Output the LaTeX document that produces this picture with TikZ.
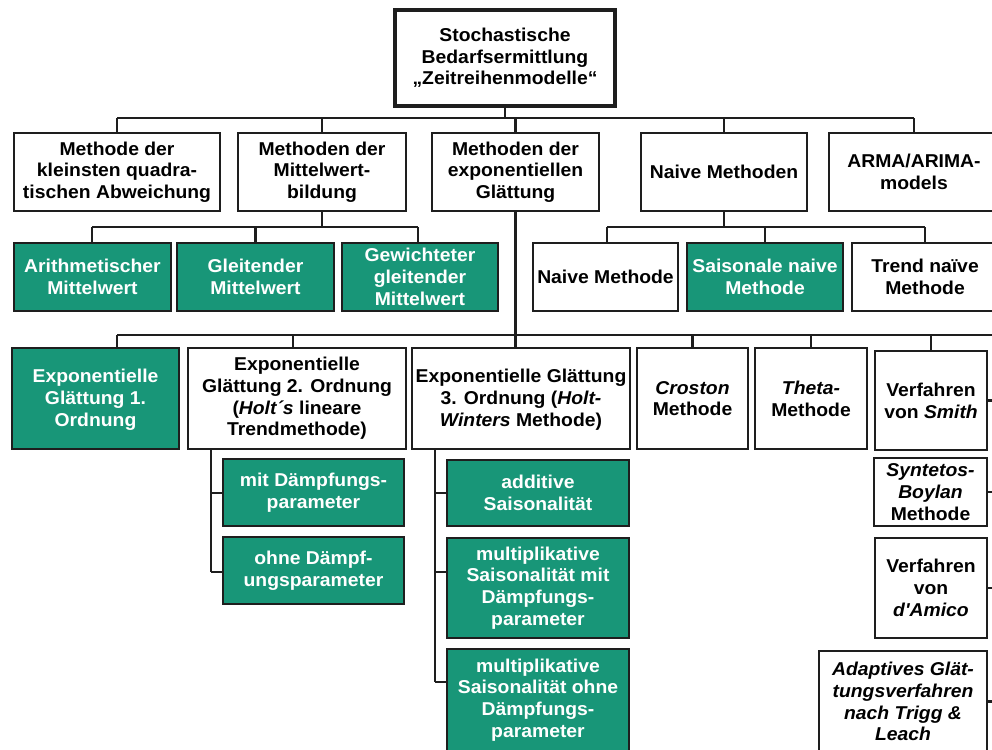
\documentclass[tikz,border=0pt]{standalone}
\usepackage{fontspec}
\setmainfont{Liberation Sans}[FakeStretch=1.04, Ligatures=TeXOff]
\definecolor{boxgreen}{RGB}{24,150,120}
\definecolor{linegray}{RGB}{30,30,30}
\tikzset{
  base/.style={draw=linegray, line width=1.8pt, inner sep=0pt, outer sep=0pt, align=center,
    font=\fontsize{18.6}{21.7}\selectfont\bfseries},
  wbox/.style={base, fill=white, text=black},
  gbox/.style={base, fill=boxgreen, text=white},
  topbox/.style={base, fill=white, line width=4.5pt},
  conn/.style={draw=linegray, line width=2.6pt}
}
\begin{document}
\begin{tikzpicture}[x=1pt,y=-1pt]
\useasboundingbox (0,0) rectangle (992,749);
\fill[white] (0,0) rectangle (992,749);

% top
\node[topbox, minimum width=220pt, minimum height=96pt] (top) at (505,58)
  {Stochastische\\Bedarfsermittlung\\„Zeitreihenmodelle“};

% level 1
\node[wbox, minimum width=206pt, minimum height=78pt] (A) at (117,172) {Methode der\\kleinsten quadra-\\tischen Abweichung};
\node[wbox, minimum width=168pt, minimum height=78pt] (B) at (322,172) {Methoden der\\Mittelwert-\\bildung};
\node[wbox, minimum width=167pt, minimum height=78pt] (C) at (515.5,172) {Methoden der\\exponentiellen\\Glättung};
\node[wbox, minimum width=166pt, minimum height=78pt] (D) at (724,172) {Naive Methoden};
\node[wbox, minimum width=170pt, minimum height=78pt] (E) at (914,172) {ARMA/ARIMA-\\models};

% level 2
\node[gbox, minimum width=157pt, minimum height=68pt] (L2a) at (92.5,277) {Arithmetischer\\Mittelwert};
\node[gbox, minimum width=157pt, minimum height=68pt] (L2b) at (255.5,277) {Gleitender\\Mittelwert};
\node[gbox, minimum width=156pt, minimum height=68pt] (L2c) at (420,277) {Gewichteter\\gleitender\\Mittelwert};
\node[wbox, minimum width=145pt, minimum height=68pt] (N1) at (605.5,277) {Naive Methode};
\node[gbox, minimum width=156pt, minimum height=68pt] (N2) at (765,277) {Saisonale naive\\Methode};
\node[wbox, minimum width=146pt, minimum height=68pt] (N3) at (925,277) {Trend naïve\\Methode};

% level 3
\node[gbox, minimum width=167pt, minimum height=101pt] (G1) at (95.5,398.5) {\rule{0pt}{8pt}\\[-13.7pt]Exponentielle\\Glättung 1.\\Ordnung};
\node[wbox, minimum width=218pt, minimum height=101pt] (G2) at (297,398.5) {Exponentielle\\Glättung 2. Ordnung\\(\textit{Holt´s} lineare\\Trendmethode)};
\node[wbox, minimum width=218pt, minimum height=101pt] (G3) at (521,398.5) {\rule{0pt}{8pt}\\[-13.7pt]Exponentielle Glättung\\3. Ordnung (\textit{Holt-}\\\textit{Winters} Methode)};
\node[wbox, minimum width=111pt, minimum height=101pt] (Cr) at (692.5,398.5) {\textit{Croston}\\Methode};
\node[wbox, minimum width=112pt, minimum height=101pt] (Th) at (811,398.5) {\textit{Theta-}\\Methode};
\node[wbox, minimum width=112pt, minimum height=99pt] (Sm) at (931,400.5) {Verfahren\\von \textit{Smith}};

% right column
\node[wbox, minimum width=113pt, minimum height=68pt] (SB) at (930.5,492) {\textit{Syntetos-}\\\textit{Boylan}\\Methode};
\node[wbox, minimum width=112pt, minimum height=100pt] (dA) at (931,588) {Verfahren\\von\\\textit{d'Amico}};
\node[wbox, minimum width=168pt, minimum height=101pt] (Ad) at (903,701.5) {\textit{Adaptives Glät-}\\\textit{tungsverfahren}\\\textit{nach Trigg \&}\\\textit{Leach}};

% under G2
\node[gbox, minimum width=181pt, minimum height=67pt] (mit) at (313.5,492.5) {mit Dämpfungs-\\parameter};
\node[gbox, minimum width=181pt, minimum height=67pt] (ohne) at (313.5,570.5) {ohne Dämpf-\\ungsparameter};

% under G3
\node[gbox, minimum width=182pt, minimum height=66pt] (add) at (538,493) {additive\\Saisonalität};
\node[gbox, minimum width=182pt, minimum height=100pt] (mm) at (538,588) {multiplikative\\Saisonalität mit\\Dämpfungs-\\parameter};
\node[gbox, minimum width=182pt, minimum height=102pt] (mo) at (538,700) {multiplikative\\Saisonalität ohne\\Dämpfungs-\\parameter};

% bus coordinates
\coordinate (b1L) at (117,118);
\coordinate (b1R) at (914,118);
\coordinate (b2L) at (92,227);
\coordinate (b2R) at (418,227);
\coordinate (b2bL) at (607,227);
\coordinate (b2bR) at (925,227);
\coordinate (b3L) at (117,335);
\coordinate (b3R) at (1000,335);
\coordinate (g2d) at (293,335);
\coordinate (g2v) at (211,449);
\coordinate (g2e) at (211,572);
\coordinate (g2m) at (211,493);
\coordinate (g3v) at (435,449);
\coordinate (g3a) at (435,493);
\coordinate (g3b) at (435,572);
\coordinate (g3c) at (435,682);
\coordinate (rx) at (1000,0);

% level 1 connectors
\draw[conn] (top.south) -- (top.south |- b1L);
\draw[conn] (b1L) -- (b1R);
\foreach \n in {A,B,C,D,E} \draw[conn] (\n.north) -- (\n.north |- b1L);

% level 2 connectors
\draw[conn] (B.south) -- (B.south |- b2L);
\draw[conn] (b2L) -- (b2R);
\draw[conn] (L2a.north -| b2L) -- (b2L);
\draw[conn] (L2b.north) -- (L2b.north |- b2L);
\draw[conn] (L2c.north -| b2R) -- (b2R);
\draw[conn] (D.south) -- (D.south |- b2bL);
\draw[conn] (b2bL) -- (b2bR);
\draw[conn] (N1.north -| b2bL) -- (b2bL);
\draw[conn] (N2.north) -- (N2.north |- b2bL);
\draw[conn] (N3.north -| b2bR) -- (b2bR);

% level 3 connectors
\draw[conn] (C.south) -- (G3.north -| C.south);
\draw[conn] (b3L) -- (b3R);
\draw[conn] (G1.north -| b3L) -- (b3L);
\draw[conn] (G2.north -| g2d) -- (g2d);
\foreach \n in {Cr,Th,Sm} \draw[conn] (\n.north) -- (\n.north |- b3L);

% G2 children
\draw[conn] (G2.south -| g2v) -- (g2e);
\draw[conn] (g2m) -- (g2m -| mit.west);
\draw[conn] (g2e) -- (g2e -| ohne.west);

% G3 children
\draw[conn] (G3.south -| g3v) -- (g3c);
\draw[conn] (g3a) -- (g3a -| add.west);
\draw[conn] (g3b) -- (g3b -| mm.west);
\draw[conn] (g3c) -- (g3c -| mo.west);

% right stubs
\foreach \n in {Sm,SB,dA,Ad} \draw[conn] (\n.east) -- (\n.east -| rx);
\end{tikzpicture}
\end{document}
